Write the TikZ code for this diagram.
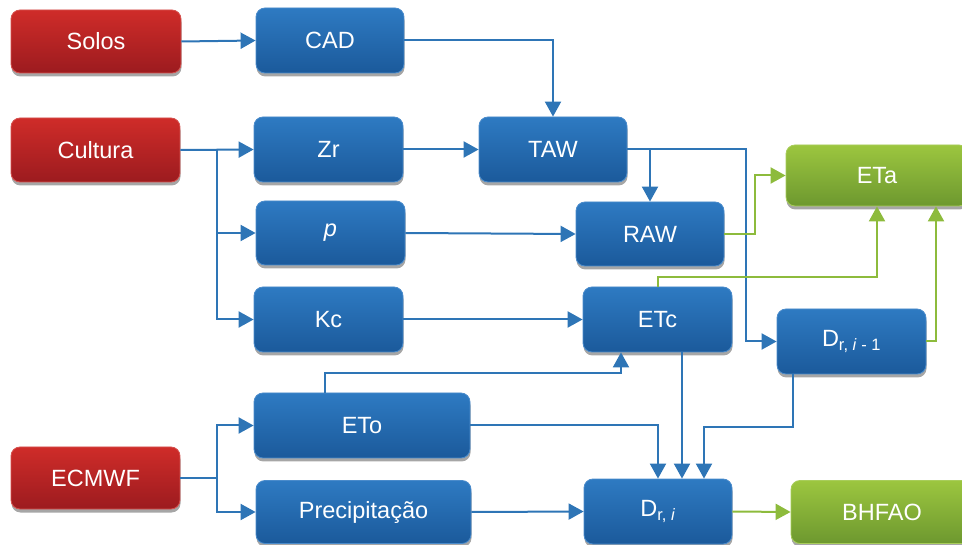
\documentclass[tikz,border=0pt]{standalone}
\usepackage{fontspec}
\setmainfont{Liberation Sans}
\usetikzlibrary{arrows.meta,shadows,calc}
\definecolor{blueT}{HTML}{2E7AC2}
\definecolor{blueB}{HTML}{1B5A9B}
\definecolor{blueE}{HTML}{4A8BCB}
\definecolor{redT}{HTML}{CF2C29}
\definecolor{redB}{HTML}{9C1B1F}
\definecolor{redE}{HTML}{D5514E}
\definecolor{greenT}{HTML}{9CC63F}
\definecolor{greenB}{HTML}{6D982F}
\definecolor{greenE}{HTML}{A8CD5A}
\definecolor{lineblue}{HTML}{2E75B6}
\definecolor{linegreen}{HTML}{8DBB3C}
\tikzset{
  box/.style={rectangle, rounded corners=9pt, inner sep=0pt, text=white,
    font=\fontsize{23.5}{27}\selectfont, line width=0.8pt,
    drop shadow={shadow xshift=0.5pt, shadow yshift=-3.5pt, fill=black, opacity=0.35}},
  bluebox/.style={box, top color=blueT, bottom color=blueB, draw=blueE},
  redbox/.style={box, top color=redT, bottom color=redB, draw=redE},
  greenbox/.style={box, top color=greenT, bottom color=greenB, draw=greenE},
  arr/.style={draw=lineblue, line width=2pt, -{Triangle[length=15pt,width=16pt]}},
  plainline/.style={draw=lineblue, line width=2pt},
  garr/.style={draw=linegreen, line width=2pt, -{Triangle[length=15pt,width=16pt]}},
}
\begin{document}
\begin{tikzpicture}[x=1pt,y=-1pt]
\useasboundingbox (0,0) rectangle (962,545);
\clip (0,0) rectangle (962,545);
% nodes
\node[redbox, minimum width=170pt, minimum height=63pt] (solos) at (96,41.5) {Solos};
\node[bluebox, minimum width=148pt, minimum height=65pt] (cad) at (330,40.5) {CAD};
\node[redbox, minimum width=169pt, minimum height=64pt] (cultura) at (95.5,150) {Cultura};
\node[bluebox, minimum width=149pt, minimum height=65pt] (zr) at (328.5,149.5) {Zr};
\node[bluebox, minimum width=148pt, minimum height=65pt] (taw) at (553,149.5) {TAW};
\node[bluebox, minimum width=149pt, minimum height=64pt] (p) at (330.5,233) {\textit{p}};
\node[bluebox, minimum width=148pt, minimum height=64pt] (raw) at (650,234) {RAW};
\node[greenbox, minimum width=182pt, minimum height=61pt] (eta) at (877,175.5) {ETa};
\node[bluebox, minimum width=149pt, minimum height=65pt] (kc) at (328.5,319.5) {Kc};
\node[bluebox, minimum width=149pt, minimum height=65pt] (etc) at (657.5,319.5) {ETc};
\node[bluebox, minimum width=149pt, minimum height=65pt] (dri1) at (851.5,341.5) {D\textsubscript{r, \textit{i} - 1}};
\node[bluebox, minimum width=216pt, minimum height=65pt] (eto) at (362,425.5) {ETo};
\node[redbox, minimum width=169pt, minimum height=62pt] (ecmwf) at (95.5,478) {ECMWF};
\node[bluebox, minimum width=215pt, minimum height=63pt] (prec) at (363.5,512) {Precipitação};
\node[bluebox, minimum width=148pt, minimum height=65pt] (dri) at (658,511.5) {D\textsubscript{r, \textit{i}}};
\node[greenbox, minimum width=182pt, minimum height=63pt] (bhfao) at (882,512) {BHFAO};
% coordinates
\coordinate (cb) at (217,150);
\coordinate (eb) at (217,478);
\coordinate (c1) at (746,341.5);
\coordinate (etoup) at (325,373);
\coordinate (d1) at (793,427);
\coordinate (g1) at (755,234);
\coordinate (g2) at (657,277);
\coordinate (g3) at (936,341.5);
% blue connectors
\draw[arr] (solos.east) -- (cad.west);
\draw[arr] (cad.east) -| (taw.north);
\draw[arr] (cultura.east) -- (zr.west);
\draw[arr] (cb) |- (p.west);
\draw[arr] (cb) |- (kc.west);
\draw[arr] (zr.east) -- (taw.west);
\draw[arr] (taw.east) -| (raw.north);
\draw[arr] (taw.east) -| (c1) -- (dri1.west);
\draw[arr] (p.east) -- (raw.west);
\draw[arr] (kc.east) -- (etc.west);
\draw[arr] (etoup |- eto.north) -- (etoup) -| ([xshift=-36.5pt]etc.south);
\draw[arr] (eto.east) -| (dri.north);
\draw[arr] ([xshift=24.5pt]etc.south) -- ([xshift=24pt]dri.north);
\draw[arr] (d1 |- dri1.south) -- (d1) -| ([xshift=46pt]dri.north);
\draw[arr] (prec.east) -- (dri.west);
\draw[plainline] (ecmwf.east) -- (eb);
\draw[arr] (eb) |- (eto.west);
\draw[arr] (eb) |- (prec.west);
% green connectors
\draw[garr] (raw.east) -- (g1) |- (eta.west);
\draw[garr] (etc.north) |- (g2) -| (eta.south);
\draw[garr] (dri1.east) -- (g3) -- (g3 |- eta.south);
\draw[garr] (dri.east) -- (bhfao.west);
\end{tikzpicture}
\end{document}
